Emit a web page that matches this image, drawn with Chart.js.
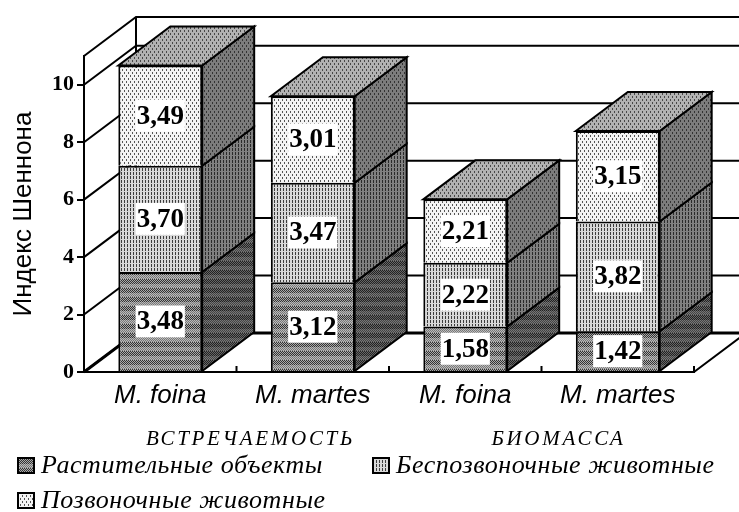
<!DOCTYPE html>
<html>
<head>
<meta charset="utf-8">
<title>Индекс Шеннона</title>
<style>
  html, body { margin: 0; padding: 0; background: #fff; }
  canvas { display: block; }
</style>
<script src="https://cdn.jsdelivr.net/npm/chart.js@4/dist/chart.umd.js"></script>
</head>
<body>
<canvas id="chart" width="739" height="512"></canvas>
<script>
const categories = ['M. foina', 'M. martes', 'M. foina', 'M. martes'];
const groupNames = ['ВСТРЕЧАЕМОСТЬ', 'БИОМАССА'];
const seriesNames = ['Растительные объекты', 'Беспозвоночные животные', 'Позвоночные животные'];
const plantValues = [3.48, 3.12, 1.58, 1.42];
const invertValues = [3.70, 3.47, 2.22, 3.82];
const vertValues = [3.49, 3.01, 2.21, 3.15];
const yTicks = [0, 2, 4, 6, 8, 10];

const depthX = 52;
const depthY = 39;
const SERIF = '"Liberation Serif", "Times New Roman", serif';
const SANS = '"Liberation Sans", Arial, sans-serif';

// ======================
// PATTERNS
// ======================

function dotPattern(bg, dot, w, h, dotH){
  const c = document.createElement('canvas');
  c.width = w; c.height = h;
  const g = c.getContext('2d');
  g.fillStyle = bg;
  g.fillRect(0, 0, w, h);
  g.fillStyle = dot;
  g.fillRect(0, 0, 1, dotH);
  g.fillRect(w / 2, h / 2, 1, dotH);
  return g.createPattern(c, 'repeat');
}

function stripePattern(bg, dash){
  const c = document.createElement('canvas');
  c.width = 3; c.height = 4;
  const g = c.getContext('2d');
  g.fillStyle = bg;
  g.fillRect(0, 0, 3, 4);
  g.fillStyle = dash;
  g.fillRect(1, 0, 1, 3);
  return g.createPattern(c, 'repeat');
}

// мелкая шахматка с широкими полосами
function bandPattern(a1, a2, b1, b2){
  const c = document.createElement('canvas');
  c.width = 2; c.height = 9;
  const g = c.getContext('2d');
  for (let y = 0; y < 9; y++) {
    for (let x = 0; x < 2; x++) {
      const odd = (x + y) % 2 === 0;
      g.fillStyle = y < 5 ? (odd ? a1 : a2) : (odd ? b1 : b2);
      g.fillRect(x, y, 1, 1);
    }
  }
  return g.createPattern(c, 'repeat');
}

const frontPatterns = [
  bandPattern('#333', '#aaa', '#777', '#bbb'),
  stripePattern('#d8d8d8', '#3c3c3c'),
  dotPattern('#f4f4f4', '#555', 4, 6, 2)
];
const sidePatterns = [
  bandPattern('#222', '#666', '#444', '#777'),
  stripePattern('#808080', '#2a2a2a'),
  dotPattern('#7c7c7c', '#333', 4, 6, 2)
];
const topPattern = dotPattern('#b2b2b2', '#484848', 4, 6, 2);

// ======================
// ЗАДНЯЯ СТЕНКА И ПОЛ
// ======================

const wallsPlugin = {
  id: 'walls',
  beforeDatasetsDraw(chart){
    const { ctx, chartArea: a, scales: { x, y } } = chart;
    const right = chart.width;
    ctx.save();
    ctx.strokeStyle = '#000';
    ctx.lineWidth = 2;
    ctx.beginPath();
    // верхняя рамка
    ctx.moveTo(a.left, a.top);
    ctx.lineTo(a.left + depthX, a.top - depthY);
    ctx.lineTo(right, a.top - depthY);
    ctx.moveTo(a.left + depthX, a.top - depthY);
    ctx.lineTo(a.left + depthX, y.getPixelForValue(0) - depthY);
    yTicks.forEach(v => {
      const py = y.getPixelForValue(v);
      ctx.moveTo(a.left, py);
      ctx.lineTo(a.left + depthX, py - depthY);
      ctx.lineTo(right, py - depthY);
    });
    // правый край пола
    ctx.moveTo(a.right, a.bottom);
    ctx.lineTo(a.right + depthX, a.bottom - depthY);
    // засечки на оси категорий
    for (let i = 0; i <= categories.length; i++) {
      const px = x.getPixelForValue(i - 0.5);
      ctx.moveTo(px, a.bottom);
      ctx.lineTo(px, a.bottom - 6);
    }
    ctx.stroke();

    // линия пола у задней стенки толще
    const floor = y.getPixelForValue(0);
    ctx.lineWidth = 3;
    ctx.beginPath();
    ctx.moveTo(a.left, floor);
    ctx.lineTo(a.left + depthX, floor - depthY);
    ctx.lineTo(right, floor - depthY);
    ctx.stroke();
    ctx.restore();
  }
};

// ======================
// ОБЪЁМ СТОЛБЦОВ, ПОДПИСИ, ЛЕГЕНДА
// ======================

const solidPlugin = {
  id: 'solid',
  afterDatasetsDraw(chart){
    const { ctx, scales: { x } } = chart;
    ctx.save();
    ctx.strokeStyle = '#000';
    ctx.lineWidth = 2;
    ctx.lineJoin = 'miter';

    chart.data.datasets.forEach((ds, d) => {
      chart.getDatasetMeta(d).data.forEach(bar => {
        const r = bar.x + bar.width / 2;
        const l = bar.x - bar.width / 2;

        ctx.beginPath();
        ctx.moveTo(r, bar.y);
        ctx.lineTo(r + depthX, bar.y - depthY);
        ctx.lineTo(r + depthX, bar.base - depthY);
        ctx.lineTo(r, bar.base);
        ctx.closePath();
        ctx.fillStyle = sidePatterns[d];
        ctx.fill();
        ctx.stroke();

        if (d === chart.data.datasets.length - 1) {
          ctx.beginPath();
          ctx.moveTo(l, bar.y);
          ctx.lineTo(l + depthX, bar.y - depthY);
          ctx.lineTo(r + depthX, bar.y - depthY);
          ctx.lineTo(r, bar.y);
          ctx.closePath();
          ctx.fillStyle = topPattern;
          ctx.fill();
          ctx.stroke();
        }
      });
    });

    // значения на плашках
    ctx.font = 'bold 27px ' + SERIF;
    ctx.textAlign = 'center';
    ctx.textBaseline = 'middle';
    chart.data.datasets.forEach((ds, d) => {
      chart.getDatasetMeta(d).data.forEach((bar, i) => {
        const text = ds.data[i].toFixed(2).replace('.', ',');
        const cy = (bar.y + bar.base) / 2;
        const w = ctx.measureText(text).width + 2;
        ctx.fillStyle = '#fff';
        ctx.fillRect(bar.x - w / 2, cy - 16, w, 32);
        ctx.fillStyle = '#000';
        ctx.fillText(text, bar.x, cy + 1);
      });
    });

    // подписи групп
    ctx.font = 'italic 21px ' + SERIF;
    ctx.letterSpacing = '2.7px';
    groupNames.forEach((name, g) => {
      ctx.fillText(name, x.getPixelForValue(g * 2 + 0.5) + 14 + g * 3, 439);
    });

    // легенда
    const slots = [[18, 473], [373, 473], [18, 508]];
    ctx.font = 'italic 26px ' + SERIF;
    ctx.letterSpacing = '0.55px';
    ctx.textAlign = 'left';
    ctx.textBaseline = 'alphabetic';
    seriesNames.forEach((name, i) => {
      const [sx, sy] = slots[i];
      ctx.fillStyle = frontPatterns[i];
      ctx.fillRect(sx, sy - 15, 16, 15);
      ctx.strokeRect(sx, sy - 15, 16, 15);
      ctx.fillStyle = '#000';
      ctx.fillText(name, sx + 23, sy);
    });
    ctx.letterSpacing = '0px';
    ctx.restore();
  }
};

new Chart(document.getElementById('chart'), {
  type: 'bar',
  data: {
    labels: categories,
    datasets: [plantValues, invertValues, vertValues].map((values, i) => ({
      label: seriesNames[i],
      data: values,
      backgroundColor: frontPatterns[i],
      borderColor: '#000',
      borderWidth: 2,
      barPercentage: 1,
      categoryPercentage: 0.55
    }))
  },
  options: {
    responsive: false,
    animation: false,
    layout: { padding: { top: 56, right: 45, left: 0, bottom: 0 } },
    plugins: {
      legend: { display: false },
      tooltip: { enabled: false }
    },
    scales: {
      x: {
        stacked: true,
        afterFit: s => { s.height = 140; },
        grid: { display: false },
        border: { color: '#000', width: 2 },
        ticks: {
          color: '#000',
          padding: 0,
          maxRotation: 0,
          font: { family: SANS, size: 26, style: 'italic' }
        }
      },
      y: {
        stacked: true,
        min: 0,
        max: 11,
        afterFit: s => { s.width = 84; },
        afterBuildTicks: s => { s.ticks = yTicks.map(v => ({ value: v })); },
        grid: { drawOnChartArea: false, color: '#000', lineWidth: 2, tickLength: 7 },
        border: { color: '#000', width: 2 },
        title: {
          display: true,
          text: 'Индекс Шеннона',
          color: '#000',
          padding: { top: 8, bottom: 0 },
          font: { family: SANS, size: 26 }
        },
        ticks: {
          color: '#000',
          padding: 3,
          font: { family: SERIF, size: 22, weight: 'bold' }
        }
      }
    }
  },
  plugins: [wallsPlugin, solidPlugin]
});
</script>
</body>
</html>
